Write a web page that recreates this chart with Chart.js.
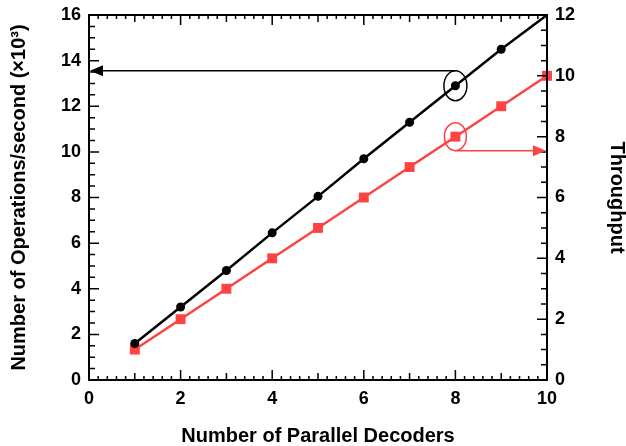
<!DOCTYPE html>
<html>
<head>
<meta charset="utf-8">
<script src="https://cdn.jsdelivr.net/npm/chart.js@4/dist/chart.umd.min.js"></script>
<style>
  html, body { margin: 0; padding: 0; background: #fff; }
  #wrap { width: 626px; height: 446px; }
</style>
</head>
<body>
<div id="wrap"><canvas id="chart" width="626" height="446"></canvas></div>
<script>
// data
let decoders = [1, 2, 3, 4, 5, 6, 7, 8, 9, 10];
let opsPerSecond = [1.6, 3.2, 4.8, 6.45, 8.05, 9.7, 11.3, 12.9, 14.5, 16];   // left axis, x10^3
let throughput = [1, 2, 3, 4, 5, 6, 7, 8, 9, 10];                           // right axis
let xTicks = [0, 2, 4, 6, 8, 10];
let leftTicks = [0, 2, 4, 6, 8, 10, 12, 14, 16];
let rightTicks = [0, 2, 4, 6, 8, 10, 12];

const RED = '#ff4242';
const FONT = '"Liberation Sans", Arial, sans-serif';

// inside tick marks, frame and the two callouts
let decorPlugin = {
    id: 'decor',
    afterDatasetsDraw(chart) {
        let ctx = chart.ctx, a = chart.chartArea;
        let xs = chart.scales.x, yl = chart.scales.y, yr = chart.scales.y2;
        ctx.save();
        ctx.strokeStyle = '#000';
        ctx.lineWidth = 1.5;
        ctx.beginPath();
        for (let i = 0; i <= 50; i++) {
            let v = i * 0.2;
            let px = xs.getPixelForValue(v);
            let len = (i % 10 == 0) ? 10 : (i % 5 == 0 ? 7 : 4);
            ctx.moveTo(px, a.bottom); ctx.lineTo(px, a.bottom - len);
            ctx.moveTo(px, a.top); ctx.lineTo(px, a.top + len);
        }
        for (let i = 0; i <= 32; i++) {
            let py = yl.getPixelForValue(i * 0.5);
            let len = (i % 4 == 0) ? 10 : 6;
            ctx.moveTo(a.left, py); ctx.lineTo(a.left + len, py);
        }
        for (let i = 0; i <= 24; i++) {
            let py = yr.getPixelForValue(i * 0.5);
            let len = (i % 4 == 0) ? 10 : 6;
            ctx.moveTo(a.right, py); ctx.lineTo(a.right - len, py);
        }
        ctx.stroke();

        ctx.lineWidth = 2;
        ctx.strokeRect(a.left, a.top, a.right - a.left, a.bottom - a.top);

        // black callout: ellipse round the x=8 point, arrow to the left axis
        let bx = xs.getPixelForValue(8), by = yl.getPixelForValue(opsPerSecond[7]);
        ctx.lineWidth = 1.5;
        ctx.beginPath();
        ctx.ellipse(bx, by, 11.5, 15, 0, 0, Math.PI * 2);
        ctx.stroke();
        let ay = by - 15;
        ctx.beginPath();
        ctx.moveTo(bx, ay); ctx.lineTo(a.left + 12, ay);
        ctx.stroke();
        ctx.fillStyle = '#000';
        ctx.beginPath();
        ctx.moveTo(a.left + 1, ay); ctx.lineTo(a.left + 14, ay - 5.5); ctx.lineTo(a.left + 14, ay + 5.5);
        ctx.closePath(); ctx.fill();

        // red callout: ellipse round the x=8 point, arrow to the right axis
        let rx = xs.getPixelForValue(8), ry = yr.getPixelForValue(throughput[7]);
        ctx.strokeStyle = RED; ctx.fillStyle = RED;
        ctx.beginPath();
        ctx.ellipse(rx, ry, 11, 14, 0, 0, Math.PI * 2);
        ctx.stroke();
        let ry2 = ry + 14;
        ctx.beginPath();
        ctx.moveTo(rx, ry2); ctx.lineTo(a.right - 12, ry2);
        ctx.stroke();
        ctx.beginPath();
        ctx.moveTo(a.right - 1, ry2); ctx.lineTo(a.right - 14, ry2 - 5.5); ctx.lineTo(a.right - 14, ry2 + 5.5);
        ctx.closePath(); ctx.fill();
        ctx.restore();
    }
};

let fitY = w => s => { s.width = w; s.paddingTop = 0; s.paddingBottom = 0; };

let ctx = document.querySelector('#chart');
let chart = new Chart(ctx, {
    type: 'line',
    data: {
        datasets: [{
            label: 'Operations/second',
            data: decoders.map((d, i) => ({x: d, y: opsPerSecond[i]})),
            yAxisID: 'y',
            borderColor: '#000',
            backgroundColor: '#000',
            borderWidth: 2.5,
            pointStyle: 'circle',
            pointRadius: decoders.map(d => d == 10 ? 0 : 4.5),
            pointBorderWidth: 0
        }, {
            label: 'Throughput',
            data: decoders.map((d, i) => ({x: d, y: throughput[i]})),
            yAxisID: 'y2',
            borderColor: RED,
            backgroundColor: RED,
            borderWidth: 2.5,
            pointStyle: 'rect',
            pointRadius: 7,
            pointBorderWidth: 0
        }]
    },
    options: {
        responsive: false,
        animation: false,
        clip: false,
        layout: { padding: { top: 15, left: 0, right: 0, bottom: 0 } },
        plugins: { legend: { display: false }, tooltip: { enabled: false } },
        scales: {
            x: {
                type: 'linear', min: 0, max: 10,
                afterBuildTicks: s => { s.ticks = xTicks.map(v => ({value: v})); },
                afterFit: s => { s.height = 66; s.paddingLeft = 0; s.paddingRight = 0; },
                grid: { display: false, drawTicks: false },
                border: { display: false },
                ticks: { color: '#000', padding: 8, font: { family: FONT, size: 18, weight: 'bold' } },
                title: { display: true, text: 'Number of Parallel Decoders', color: '#000',
                         padding: { top: 10, bottom: -2 }, font: { family: FONT, size: 20, weight: 'bold' } }
            },
            y: {
                position: 'left', min: 0, max: 16,
                afterBuildTicks: s => { s.ticks = leftTicks.map(v => ({value: v})); },
                afterFit: fitY(89),
                grid: { display: false, drawTicks: false },
                border: { display: false },
                ticks: { color: '#000', padding: 8, font: { family: FONT, size: 18, weight: 'bold' } },
                title: { display: true, text: 'Number of Operations/second (×10³)', color: '#000',
                         padding: { top: 7, bottom: 0 }, font: { family: FONT, size: 20, weight: 'bold' } }
            },
            y2: {
                position: 'right', min: 0, max: 12,
                afterBuildTicks: s => { s.ticks = rightTicks.map(v => ({value: v})); },
                afterFit: fitY(79),
                grid: { display: false, drawTicks: false },
                border: { display: false },
                ticks: { color: '#000', padding: 8, font: { family: FONT, size: 18, weight: 'bold' } },
                title: { display: true, text: 'Throughput', color: '#000',
                         padding: { top: -3, bottom: 0 }, font: { family: FONT, size: 20, weight: 'bold' } }
            }
        }
    },
    plugins: [decorPlugin]
});
</script>
</body>
</html>
